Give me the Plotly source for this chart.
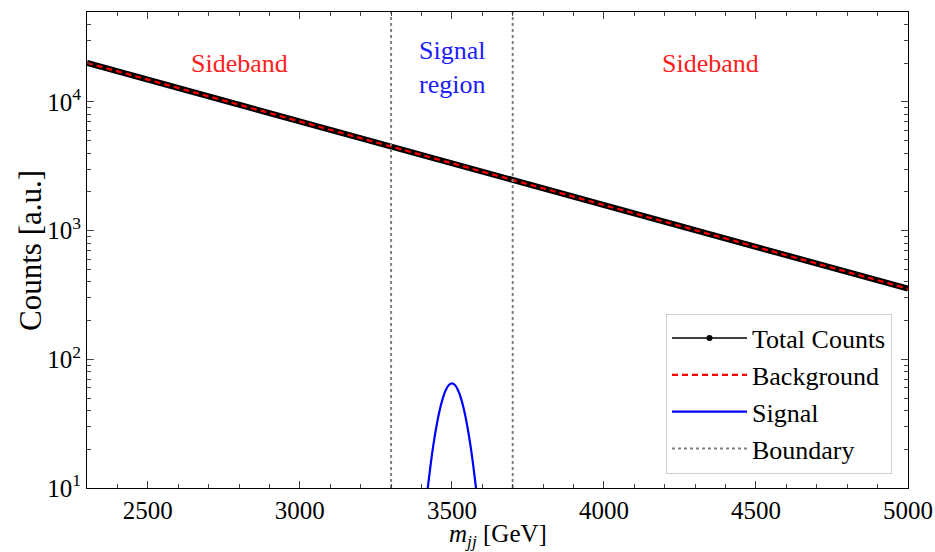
import math
import plotly.graph_objects as go

# ---- data ----
bg_x = [2300, 2400, 2500, 2600, 2700, 2800, 2900, 3000, 3100, 3200, 3300, 3400, 3500, 3600,
        3700, 3800, 3900, 4000, 4100, 4200, 4300, 4400, 4500, 4600, 4700, 4800, 4900, 5000]
bg_y = [20100, 17300, 14900, 12800, 11050, 9510, 8190, 7050, 6070, 5230, 4500, 3880, 3340, 2880,
        2480, 2130, 1840, 1580, 1360, 1170, 1010, 869, 748, 644, 555, 478, 411, 354]

sig_x = [3400, 3410, 3420, 3430, 3440, 3450, 3460, 3470, 3480, 3490, 3500,
         3510, 3520, 3530, 3540, 3550, 3560, 3570, 3580, 3590, 3600]
sig_y = [3.3, 5.8, 9.7, 15.1, 22.3, 30.9, 40.4, 49.7, 57.7, 63.1, 65.0,
         63.1, 57.7, 49.7, 40.4, 30.9, 22.3, 15.1, 9.7, 5.8, 3.3]

boundaries = [3300, 3700]
region_labels = ["Sideband", "Signal<br>region", "Sideband"]
region_x = [2800, 3500, 4350]
region_y = [20000, 18500, 20000]
region_colors = ["#ff2020", "#2020ff", "#ff2020"]

x_ticks = [2500, 3000, 3500, 4000, 4500, 5000]
y_ticks = [10, 100, 1000, 10000]
y_ticktext = ["10<sup>1</sup>", "10<sup>2</sup>", "10<sup>3</sup>", "10<sup>4</sup>"]

x_range = [2300, 5000]
y_range = [10, 50000]

# total = background + signal at the background grid
sig_map = dict(zip(sig_x, sig_y))
tot_y = [b + sig_map.get(x, 0.0) for x, b in zip(bg_x, bg_y)]

FONT = "Liberation Serif"

fig = go.Figure()

fig.add_trace(go.Scatter(x=bg_x, y=tot_y, mode="lines", line=dict(color="black", width=6),
                         showlegend=False, legendgroup="tot"))
fig.add_trace(go.Scatter(x=[None], y=[None], mode="lines+markers", name="Total Counts",
                         line=dict(color="black", width=1.5), marker=dict(size=6, color="black"),
                         legendgroup="tot"))
fig.add_trace(go.Scatter(x=bg_x, y=bg_y, mode="lines", name="Background",
                         line=dict(color="#ff0000", width=2.2, dash="6px,4px")))
fig.add_trace(go.Scatter(x=sig_x, y=sig_y, mode="lines", name="Signal",
                         line=dict(color="#0000ff", width=2.2, shape="spline")))
for i, b in enumerate(boundaries):
    fig.add_trace(go.Scatter(x=[b, b], y=y_range, mode="lines", name="Boundary",
                             line=dict(color="#808080", width=2, dash="dot"),
                             showlegend=(i == 0), legendgroup="bnd"))

for t, xx, yy, c in zip(region_labels, region_x, region_y, region_colors):
    fig.add_annotation(x=xx, y=math.log10(yy), yref="y", xref="x", text=t, showarrow=False,
                       font=dict(family=FONT, size=26, color=c), yanchor="middle")

# axis titles
fig.add_annotation(x=0.5, y=-0.1, xref="paper", yref="paper", yanchor="middle",
                   text="<i>m</i><sub><i>jj</i></sub> [GeV]", showarrow=False,
                   font=dict(family=FONT, size=25))
fig.add_annotation(x=-0.0695, y=0.5, xref="paper", yref="paper", xanchor="center",
                   text="Counts [a.u.]", showarrow=False, textangle=-90,
                   font=dict(family=FONT, size=31))

fig.update_layout(
    width=935, height=552,
    margin=dict(l=87, r=27, t=12, b=64),
    paper_bgcolor="white", plot_bgcolor="white",
    font=dict(family=FONT, size=25, color="black"),
    legend=dict(x=0.9805, y=0.03, xanchor="right", yanchor="bottom",
                bgcolor="white", bordercolor="#d0d0d0", borderwidth=1,
                font=dict(family=FONT, size=26), itemwidth=75, tracegroupgap=0),
)
fig.update_xaxes(range=x_range, tickvals=x_ticks, ticks="inside", ticklen=7, tickwidth=1,
                 showline=True, linecolor="black", linewidth=1.2, mirror="allticks",
                 showgrid=False, zeroline=False, automargin=False,
                 minor=dict(ticks="inside", ticklen=4, dtick=100, tick0=2300, showgrid=False),
                 tickfont=dict(family=FONT, size=25))
minor_vals = [m * 10 ** e for e in range(1, 5) for m in range(2, 10)]
fig.update_yaxes(type="log", range=[1, 4.699], tickvals=y_ticks, ticktext=y_ticktext,
                 ticks="inside", ticklen=7, tickwidth=1,
                 showline=True, linecolor="black", linewidth=1.2, mirror="allticks",
                 showgrid=False, zeroline=False, automargin=False,
                 minor=dict(ticks="inside", ticklen=4, tickvals=minor_vals, showgrid=False),
                 tickfont=dict(family=FONT, size=25))

fig.write_html("out.html", config={"displayModeBar": False},
               post_script="document.body.style.margin='0px';document.body.style.overflow='hidden';")
